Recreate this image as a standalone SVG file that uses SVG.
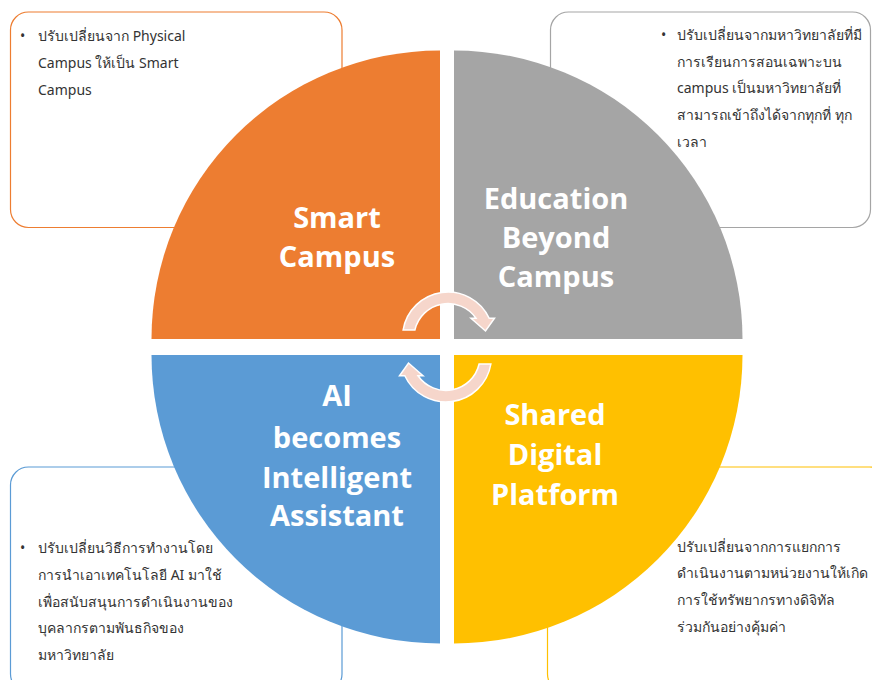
<svg xmlns="http://www.w3.org/2000/svg" xmlns:xlink="http://www.w3.org/1999/xlink" width="872" height="680" viewBox="0 0 872 680">
<style>
.box{fill:#fff;stroke-width:1.2}
.desc{font-family:"Noto Sans","DejaVu Sans","Liberation Sans",sans-serif;font-size:14px;fill:#333}
.head{font-family:"Open Sans","Liberation Sans",sans-serif;font-weight:bold;font-size:29px;fill:#fff;text-anchor:middle}
.arr{fill:#F6D6CB;stroke:#fff;stroke-width:1.5;stroke-linejoin:miter}
</style>
<defs>
<path id="carrow" d="M403.1,330 A45.5,45.5 0 0 1 489.2,318.3 L494.5,318.3 L485.5,331 L471,318.3 L476,318.3 A34,34 0 0 0 414.9,330 Z"/>
</defs>
<rect width="872" height="680" fill="#fff"/>
<g id="box-tl"><rect class="box" x="10.5" y="12" width="331.5" height="215.5" rx="18" stroke="#ED7D31"/>
<text class="desc"><tspan x="20" y="41">•</tspan><tspan x="38" y="41">ปรับเปลี่ยนจาก Physical</tspan><tspan x="38" y="68">Campus ให้เป็น Smart</tspan><tspan x="38" y="95">Campus</tspan></text></g>
<g id="box-tr"><rect class="box" x="550.5" y="12" width="320" height="215.5" rx="18" stroke="#A5A5A5"/>
<text class="desc"><tspan x="661" y="40">•</tspan><tspan x="677" y="40">ปรับเปลี่ยนจากมหาวิทยาลัยที่มี</tspan><tspan x="677" y="67">การเรียนการสอนเฉพาะบน</tspan><tspan x="677" y="93">campus เป็นมหาวิทยาลัยที่</tspan><tspan x="677" y="120">สามารถเข้าถึงได้จากทุกที่ ทุก</tspan><tspan x="677" y="147">เวลา</tspan></text></g>
<g id="box-bl"><rect class="box" x="10.5" y="467" width="331.5" height="225" rx="18" stroke="#5B9BD5"/>
<text class="desc"><tspan x="20" y="553">•</tspan><tspan x="38" y="553">ปรับเปลี่ยนวิธีการทำงานโดย</tspan><tspan x="38" y="580">การนำเอาเทคโนโลยี AI มาใช้</tspan><tspan x="38" y="607">เพื่อสนับสนุนการดำเนินงานของ</tspan><tspan x="38" y="633">บุคลากรตามพันธกิจของ</tspan><tspan x="38" y="660">มหาวิทยาลัย</tspan></text></g>
<g id="box-br"><rect class="box" x="547.5" y="467" width="340" height="225" rx="18" stroke="#FFC000"/>
<text class="desc"><tspan x="677" y="552">ปรับเปลี่ยนจากการแยกการ</tspan><tspan x="677" y="578">ดำเนินงานตามหน่วยงานให้เกิด</tspan><tspan x="677" y="605">การใช้ทรัพยากรทางดิจิทัล</tspan><tspan x="677" y="632">ร่วมกันอย่างคุ้มค่า</tspan></text></g>
<g id="smart-campus"><path d="M440,339 L151.5,339 A288.5,288.5 0 0 1 440,50.5 Z" fill="#ED7D31"/>
<text class="head"><tspan x="337" y="228">Smart</tspan><tspan x="337" y="267">Campus</tspan></text></g>
<g id="education-beyond-campus"><path d="M454,339 L454,50.5 A288.5,288.5 0 0 1 742.5,339 Z" fill="#A5A5A5"/>
<text class="head"><tspan x="556" y="209">Education</tspan><tspan x="556" y="248">Beyond</tspan><tspan x="556" y="287">Campus</tspan></text></g>
<g id="ai-assistant"><path d="M440,355 L440,643.5 A288.5,288.5 0 0 1 151.5,355 Z" fill="#5B9BD5"/>
<text class="head"><tspan x="337" y="406">AI</tspan><tspan x="337" y="448">becomes</tspan><tspan x="337" y="488">Intelligent</tspan><tspan x="337" y="526">Assistant</tspan></text></g>
<g id="shared-digital-platform"><path d="M454,355 L742.5,355 A288.5,288.5 0 0 1 454,643.5 Z" fill="#FFC000"/>
<text class="head"><tspan x="555" y="425">Shared</tspan><tspan x="555" y="465">Digital</tspan><tspan x="555" y="505">Platform</tspan></text></g>
<g id="connectors">
<use xlink:href="#carrow" class="arr"/>
<use xlink:href="#carrow" class="arr" transform="rotate(180 447 347)"/>
</g>
</svg>
